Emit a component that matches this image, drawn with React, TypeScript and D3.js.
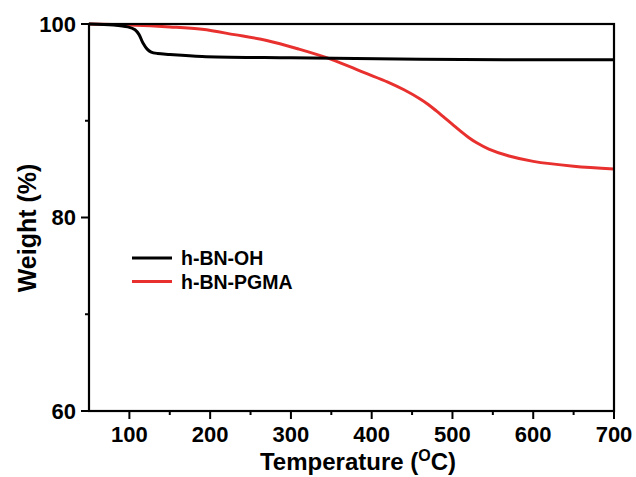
import React from "react";
import * as d3 from "d3";

const blackTemp = [50, 80, 98, 107, 112, 117, 122, 127, 135, 150, 190, 300, 460, 700];
const blackWeight = [100, 99.9, 99.7, 99.4, 98.9, 98.0, 97.4, 97.1, 96.95, 96.85, 96.65, 96.5, 96.35, 96.3];
const redTemp = [50, 100, 150, 190, 230, 270, 310, 350, 390, 420, 440, 460, 470, 480, 490, 500, 510, 520, 530, 545, 570, 600, 650, 700];
const redWeight = [100, 99.9, 99.7, 99.45, 98.9, 98.3, 97.4, 96.35, 95.0, 94.0, 93.2, 92.25, 91.68, 91.02, 90.32, 89.62, 88.92, 88.27, 87.72, 87.07, 86.35, 85.8, 85.3, 85.0];
const xMajor = [100, 200, 300, 400, 500, 600, 700];
const xMinor = [150, 250, 350, 450, 550, 650];
const yMajor = [60, 80, 100];
const yMinor = [70, 90];
const seriesNames = ["h-BN-OH", "h-BN-PGMA"];
const seriesColors = ["#000000", "#e8312f"];

export default function App() {
  const left = 89, right = 614, top = 24, bottom = 411;
  const x = d3.scaleLinear().domain([50, 700]).range([left, right]);
  const y = d3.scaleLinear().domain([60, 100]).range([bottom, top]);
  const line = d3
    .line<[number, number]>()
    .x((d) => x(d[0]))
    .y((d) => y(d[1]))
    .curve(d3.curveCatmullRom.alpha(0.5));
  const blackData = blackTemp.map((t, i) => [t, blackWeight[i]] as [number, number]);
  const redData = redTemp.map((t, i) => [t, redWeight[i]] as [number, number]);
  const font = "'Liberation Sans', Arial, sans-serif";

  return (
    <svg
      width={636}
      height={477}
      style={{ position: "absolute", left: 0, top: 0, background: "#fff" }}
      fontFamily={font}
      fontWeight="bold"
    >
      <rect width={636} height={477} fill="#fff" />
      <defs>
        <clipPath id="plot">
          <rect x={left} y={top - 2} width={right - left} height={bottom - top + 2} />
        </clipPath>
      </defs>
      <g clipPath="url(#plot)">
        <path d={line(redData) || ""} fill="none" stroke={seriesColors[1]} strokeWidth={3} />
        <path d={line(blackData) || ""} fill="none" stroke={seriesColors[0]} strokeWidth={3} />
      </g>
      <rect x={left} y={top} width={right - left} height={bottom - top} fill="none" stroke="#000" strokeWidth={2.2} />
      {yMajor.map((v) => (
        <g key={"ym" + v}>
          <line x1={left - 8} x2={left} y1={y(v)} y2={y(v)} stroke="#000" strokeWidth={2} />
          <text x={left - 13} y={y(v)} dy="0.36em" textAnchor="end" fontSize={22}>
            {v}
          </text>
        </g>
      ))}
      {yMinor.map((v) => (
        <line key={"yn" + v} x1={left - 4} x2={left} y1={y(v)} y2={y(v)} stroke="#000" strokeWidth={2} />
      ))}
      {xMajor.map((v) => (
        <g key={"xm" + v}>
          <line x1={x(v)} x2={x(v)} y1={bottom} y2={bottom + 8} stroke="#000" strokeWidth={2} />
          <text x={x(v)} y={442} textAnchor="middle" fontSize={22}>
            {v}
          </text>
        </g>
      ))}
      {xMinor.map((v) => (
        <line key={"xn" + v} x1={x(v)} x2={x(v)} y1={bottom} y2={bottom + 4} stroke="#000" strokeWidth={2} />
      ))}
      <text x={358} y={470} textAnchor="middle" fontSize={24}>
        Temperature (
        <tspan dy={-9} fontSize={16}>O</tspan>
        <tspan dy={9}>C)</tspan>
      </text>
      <text transform="translate(36,228) rotate(-90)" textAnchor="middle" fontSize={25}>
        Weight (%)
      </text>
      {seriesNames.map((name, i) => (
        <g key={name}>
          <line x1={132} x2={172} y1={258 + i * 23.5} y2={258 + i * 23.5} stroke={seriesColors[i]} strokeWidth={3} />
          <text x={181} y={258 + i * 23.5} dy="0.36em" fontSize={19.5}>
            {name}
          </text>
        </g>
      ))}
    </svg>
  );
}
